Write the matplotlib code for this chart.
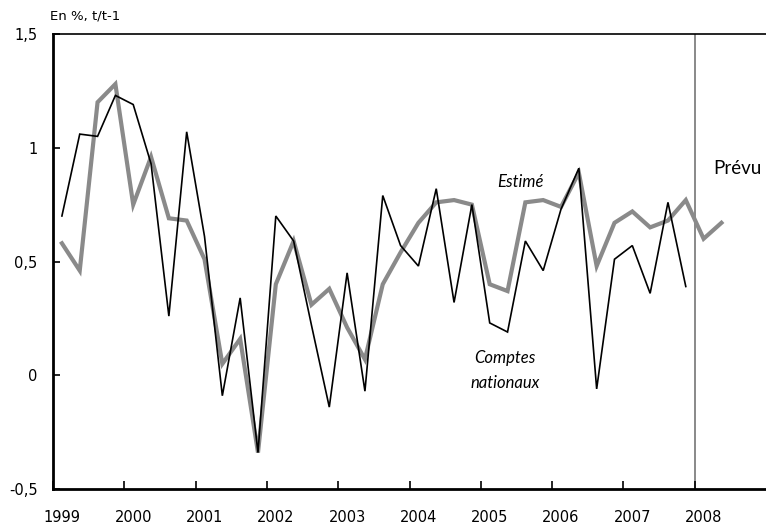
import matplotlib
matplotlib.use("Agg")
import matplotlib.pyplot as plt
from matplotlib.ticker import FixedLocator, FuncFormatter

# Quarterly data, 1999Q1 onwards
years = ["1999", "2000", "2001", "2002", "2003", "2004", "2005", "2006", "2007", "2008"]

comptes_nationaux = [
    0.70, 1.06, 1.05, 1.23,   # 1999
    1.19, 0.93, 0.26, 1.07,   # 2000
    0.61, -0.09, 0.34, -0.34, # 2001
    0.70, 0.59, 0.22, -0.14,  # 2002
    0.45, -0.07, 0.79, 0.57,  # 2003
    0.48, 0.82, 0.32, 0.75,   # 2004
    0.23, 0.19, 0.59, 0.46,   # 2005
    0.73, 0.91, -0.06, 0.51,  # 2006
    0.57, 0.36, 0.76, 0.39,   # 2007
]

estime = [
    0.58, 0.46, 1.20, 1.28,   # 1999
    0.75, 0.96, 0.69, 0.68,   # 2000
    0.51, 0.05, 0.16, -0.34,  # 2001
    0.40, 0.59, 0.31, 0.38,   # 2002
    0.21, 0.07, 0.40, 0.54,   # 2003
    0.67, 0.76, 0.77, 0.75,   # 2004
    0.40, 0.37, 0.76, 0.77,   # 2005
    0.74, 0.89, 0.48, 0.67,   # 2006
    0.72, 0.65, 0.68, 0.77,   # 2007
    0.60, 0.67,               # 2008 (prévu)
]

yticks = [-0.5, 0, 0.5, 1, 1.5]

fig = plt.figure(figsize=(7.66, 5.31), dpi=100)
ax = fig.add_axes([53 / 766, 1 - 489 / 531, 1 - 53 / 766, (489 - 34) / 531])

xc = list(range(len(comptes_nationaux)))
xe = list(range(len(estime)))
ax.plot(xe, estime, color="#8a8a8a", lw=3.0, solid_joinstyle="miter", zorder=2)
ax.plot(xc, comptes_nationaux, color="black", lw=1.2, solid_joinstyle="miter", zorder=3)

# forecast separator at start of 2008
sep = 4 * years.index("2008") - 0.5
ax.axvline(sep, color="#808080", lw=1.3, zorder=1)

ax.set_xlim(-0.5, 4 * len(years) - 0.5)
ax.set_ylim(-0.5, 1.5)

# x ticks at year boundaries, labels at Q1 positions
ax.xaxis.set_major_locator(FixedLocator([4 * k - 0.5 for k in range(len(years))]))
ax.xaxis.set_minor_locator(FixedLocator([4 * k for k in range(len(years))]))
ax.xaxis.set_major_formatter(FuncFormatter(lambda v, p: ""))
ax.xaxis.set_minor_formatter(FuncFormatter(lambda v, p: years[int(round(v / 4))]))
ax.tick_params(axis="x", which="major", direction="in", length=6, width=1.2, color="black")
ax.tick_params(axis="x", which="minor", length=0, pad=15, labelsize=10.5)

ax.set_yticks(yticks)
ax.yaxis.set_major_formatter(FuncFormatter(lambda v, p: ("%g" % v).replace(".", ",")))
ax.tick_params(axis="y", direction="in", length=5, width=1.2, pad=11, labelsize=10.5)

for s in ["left", "bottom"]:
    ax.spines[s].set_linewidth(2.0)
ax.spines["top"].set_linewidth(1.2)
ax.spines["right"].set_visible(False)

fig.text(50 / 766, 1 - 16 / 531, "En %, t/t-1", fontsize=9.5, va="center", ha="left")

ax.text(25.75, 0.85, "Estimé", fontsize=12, style="italic", family="Lato", ha="center", va="center")
ax.text(24.85, 0.077, "Comptes", fontsize=12, style="italic", family="Lato", ha="center", va="center")
ax.text(24.85, -0.033, "nationaux", fontsize=12, style="italic", family="Lato", ha="center", va="center")
ax.text(37.9, 0.91, "Prévu", fontsize=13.5, family="Lato", ha="center", va="center")

fig.savefig("out.png", dpi=100)
